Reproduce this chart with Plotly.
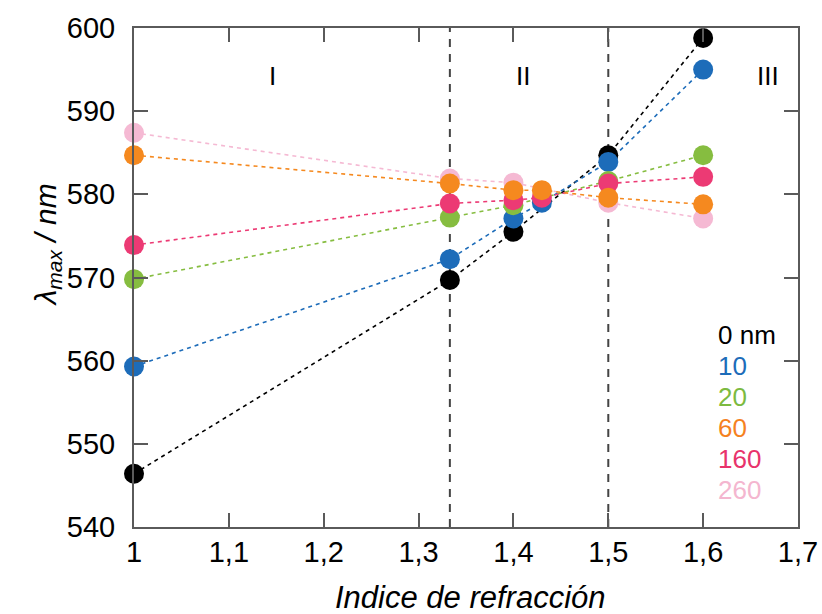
import plotly.graph_objects as go

# Refractive index of the surrounding medium
indices = [1.0, 1.333, 1.4, 1.43, 1.5, 1.6]

# Plasmon peak position (nm) for each shell thickness; None where not measured
series_labels = ["260", "0 nm", "10", "20", "160", "60"]
lam_260 = [587.4, 581.9, 581.4, None, 579.0, 577.1]
lam_0 = [546.4, 569.7, 575.5, None, 584.7, 598.8]
lam_10 = [559.3, 572.2, 577.1, 579.0, 583.9, 595.0]
lam_20 = [569.8, 577.2, 578.7, None, 581.6, 584.7]
lam_160 = [573.9, 578.9, 579.3, 579.6, 581.3, 582.1]
lam_60 = [584.7, 581.3, 580.5, 580.5, 579.6, 578.8]

series_values = [lam_260, lam_0, lam_10, lam_20, lam_160, lam_60]
series_colors = ["#f5b9d3", "#000000", "#1d6cb9", "#86bd40", "#ec3a74", "#f5891f"]

# Legend order as printed beside the plot
legend_labels = ["0 nm", "10", "20", "60", "160", "260"]
legend_colors = ["#000000", "#1d6cb9", "#7cba40", "#f5821f", "#e8336b", "#f4b6cf"]

region_labels = ["I", "II", "III"]
region_x = [1.146, 1.41, 1.668]
boundaries = [1.333, 1.5]

x_ticks = [1.0, 1.1, 1.2, 1.3, 1.4, 1.5, 1.6, 1.7]
x_ticktext = ["1", "1,1", "1,2", "1,3", "1,4", "1,5", "1,6", "1,7"]
y_ticks = [540, 550, 560, 570, 580, 590, 600]

FONT = "Arial, Liberation Sans, sans-serif"

# Plot-area geometry in pixels
W, H = 822, 614
ML, MR, MT, MB = 134, 24, 28, 87
plot_w = W - ML - MR
plot_h = H - MT - MB


def px_to_paper(px, py):
    return (px - ML) / plot_w, (H - MB - py) / plot_h


fig = go.Figure()

# Region boundaries
for xb in boundaries:
    fig.add_shape(type="line", x0=xb, x1=xb, y0=540, y1=600, xref="x", yref="y",
                  line=dict(color="#444444", width=2, dash="8px,7px"), layer="below")

# Dotted connecting lines first, then markers on top
for vals, col in zip(series_values, series_colors):
    fig.add_trace(go.Scatter(x=indices, y=vals, mode="lines", connectgaps=True,
                             line=dict(color=col, width=1.6, dash="4px,4px"),
                             showlegend=False, hoverinfo="skip"))
for vals, col, name in zip(series_values, series_colors, series_labels):
    fig.add_trace(go.Scatter(x=indices, y=vals, mode="markers", name=name,
                             marker=dict(color=col, size=20, line=dict(width=0)),
                             showlegend=False, cliponaxis=False))

# Region labels
for lab, xr in zip(region_labels, region_x):
    fig.add_annotation(x=xr, y=594.2, xref="x", yref="y", text=lab, showarrow=False,
                       font=dict(family=FONT, size=26, color="#000000"))

# Colour-coded thickness key
for i, (lab, col) in enumerate(zip(legend_labels, legend_colors)):
    px, py = px_to_paper(716, 335 + i * 31)
    fig.add_annotation(x=px, y=py, xref="paper", yref="paper", text=lab,
                       showarrow=False, xanchor="left", yanchor="middle",
                       font=dict(family=FONT, size=26, color=col))

# Axis titles as annotations
tx, ty = px_to_paper(26, 245)
fig.add_annotation(x=tx, y=ty, xref="paper", yref="paper",
                   text="<i>λ<sub>max</sub> / nm</i>", textangle=-90, showarrow=False,
                   font=dict(family=FONT, size=30, color="#000000"))
tx, ty = px_to_paper(470, 597)
fig.add_annotation(x=tx, y=ty, xref="paper", yref="paper",
                   text="<i>Indice de refracción</i>", showarrow=False,
                   yanchor="middle", font=dict(family=FONT, size=31, color="#000000"))

fig.update_layout(
    width=W, height=H,
    margin=dict(l=ML, r=MR, t=MT, b=MB, autoexpand=False),
    paper_bgcolor="white", plot_bgcolor="white",
    font=dict(family=FONT, size=29, color="#000000"),
    showlegend=False,
)

axis_common = dict(showgrid=False, zeroline=False, showline=True, linecolor="#5a5a5a",
                   linewidth=2, ticks="inside", ticklen=14, tickwidth=2, tickcolor="#5a5a5a",
                   mirror="ticks", automargin=False,
                   tickfont=dict(family=FONT, size=29, color="#000000"))

fig.update_xaxes(range=[1.0, 1.7], tickvals=x_ticks, ticktext=x_ticktext,
                 ticklabelstandoff=-2, **axis_common)
fig.update_yaxes(range=[540, 600], tickvals=y_ticks, ticklabelstandoff=11, **axis_common)

fig.write_html("out.html")
